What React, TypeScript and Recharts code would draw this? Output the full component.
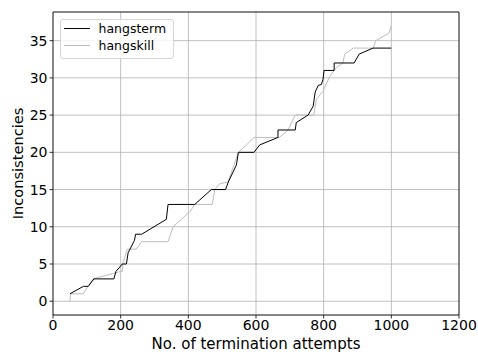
import { LineChart, Line, XAxis, YAxis, CartesianGrid, ReferenceLine } from 'recharts';

const termX = [50, 90, 104, 121, 180, 186, 205, 217, 222, 241, 244, 262, 335, 340, 419, 468, 510, 518, 542, 548, 594, 611, 665, 665, 716, 719, 754, 769, 775, 784, 793, 798, 801, 831, 831, 890, 905, 946, 1000];
const termY = [1, 2, 2, 3, 3, 4, 5, 5, 6.5, 8.2, 9, 9, 11, 13, 13, 15, 15, 16, 18.3, 20, 20, 21, 22, 23, 23, 24, 25, 26.2, 28.1, 29, 29.1, 29.8, 31, 31, 32, 32, 33.2, 34, 34];

const killX = [50, 52, 89, 118, 200, 205, 206, 220, 246, 262, 340, 355, 404, 419, 471, 478, 493, 517, 548, 572, 594, 669, 695, 705, 716, 771, 778, 798, 818, 838, 857, 862, 887, 946, 954, 993, 1000];
const killY = [0, 1, 1, 3, 4, 4, 5, 7, 7, 8, 8, 10, 12, 13, 13, 15, 15.8, 16, 20, 21, 22, 22, 23, 24, 25, 25, 27.1, 28.2, 30.2, 31.4, 32, 33.2, 34, 34, 35, 36, 37];

const xTicks = [0, 200, 400, 600, 800, 1000, 1200];
const yTicks = [0, 5, 10, 15, 20, 25, 30, 35];

const hangsterm = termX.map((x, i) => ({ x, y: termY[i] }));
const hangskill = killX.map((x, i) => ({ x, y: killY[i] }));

const FONT = 'DejaVu Sans';
const Y_MIN = -1.85;
const Y_MAX = 38.85;

const LegendBox = () => (
  <div
    style={{
      position: 'absolute',
      left: 60,
      top: 19,
      width: 112,
      height: 38,
      border: '1px solid #d6d6d6',
      borderRadius: 3,
      background: 'rgba(255,255,255,0.8)',
      fontFamily: FONT,
      fontSize: 12.5,
      color: '#000',
    }}
  >
    {[
      { name: 'hangsterm', color: '#000' },
      { name: 'hangskill', color: '#bdbdbd' },
    ].map((it, i) => (
      <div key={it.name} style={{ position: 'absolute', left: 2.5, top: 1 + i * 16.7, height: 15, display: 'flex', alignItems: 'center' }}>
        <div style={{ width: 26, height: 0, borderTop: `1px solid ${it.color}` }} />
        <span style={{ marginLeft: 9 }}>{it.name}</span>
      </div>
    ))}
  </div>
);

const YLabel = (props: any) => {
  const vb = props.viewBox;
  const cx = 17.5;
  const cy = vb.y + vb.height / 2;
  return (
    <text x={cx} y={cy} transform={`rotate(-90 ${cx} ${cy})`} textAnchor="middle" dominantBaseline="central" fontFamily={FONT} fontSize={14.6} fill="#000">
      Inconsistencies
    </text>
  );
};

const XLabel = (props: any) => {
  const vb = props.viewBox;
  return (
    <text x={vb.x + vb.width / 2} y={348.5} textAnchor="middle" fontFamily={FONT} fontSize={15} fill="#000">
      No. of termination attempts
    </text>
  );
};

export default function App() {
  return (
    <div style={{ position: 'absolute', left: 0, top: 0, width: 478, height: 352, background: '#fff' }}>
      <LineChart width={478} height={352} margin={{ top: 12, right: 19, left: 0, bottom: 0 }}>
        <CartesianGrid stroke="#b0b0b0" strokeWidth={0.8} />
        <XAxis
          type="number"
          dataKey="x"
          domain={[0, 1200]}
          ticks={xTicks}
          height={37}
          tickSize={3.5}
          tickMargin={2}
          axisLine={{ stroke: '#000', strokeWidth: 0.8 }}
          tickLine={{ stroke: '#000', strokeWidth: 0.8 }}
          tick={{ fill: '#000', fontFamily: FONT, fontSize: 14 }}
          allowDataOverflow
          label={XLabel}
        />
        <YAxis
          type="number"
          dataKey="y"
          domain={[Y_MIN, Y_MAX]}
          ticks={yTicks}
          width={53}
          tickSize={3.5}
          tickMargin={2}
          axisLine={{ stroke: '#000', strokeWidth: 0.8 }}
          tickLine={{ stroke: '#000', strokeWidth: 0.8 }}
          tick={{ fill: '#000', fontFamily: FONT, fontSize: 14 }}
          allowDataOverflow
          label={YLabel}
        />
        <ReferenceLine y={Y_MAX} stroke="#000" strokeWidth={0.8} />
        <ReferenceLine x={1200} stroke="#000" strokeWidth={0.8} />
        <Line data={hangskill} dataKey="y" name="hangskill" type="linear" stroke="#bdbdbd" strokeWidth={1} dot={false} isAnimationActive={false} />
        <Line data={hangsterm} dataKey="y" name="hangsterm" type="linear" stroke="#000" strokeWidth={1} dot={false} isAnimationActive={false} />
      </LineChart>
      <LegendBox />
    </div>
  );
}
